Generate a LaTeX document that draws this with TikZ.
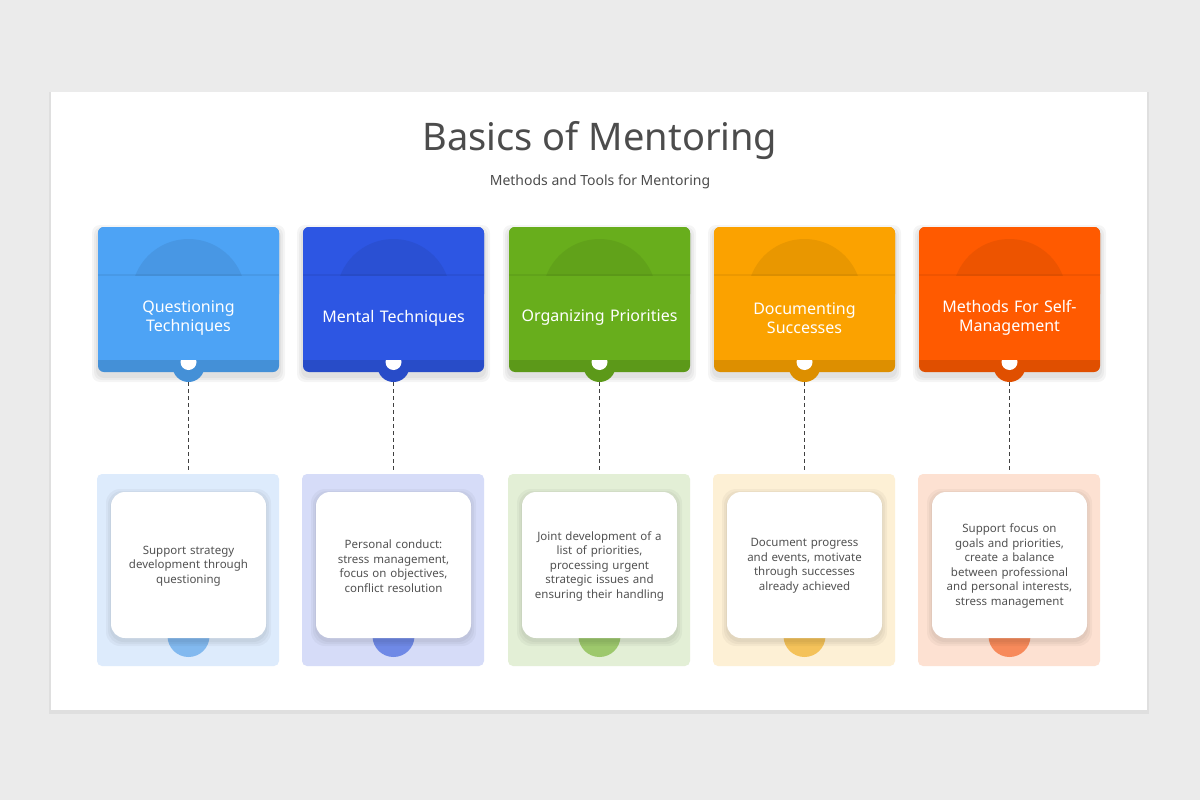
\documentclass[tikz,border=0pt]{standalone}
\usepackage{fontspec}
\setmainfont{Noto Sans}
\begin{document}
\begin{tikzpicture}[x=1pt,y=-1pt,
  ttl/.style={text=white,font=\fontsize{16}{19}\selectfont,align=center,text width=170pt},
  dsc/.style={text=black!68,font=\fontsize{11.5}{14.5}\selectfont,align=center,text width=135pt},
  conn/.style={black!75,line width=1.6pt,dash pattern=on 4pt off 3pt}]
\useasboundingbox (0,0) rectangle (1200,800);
\fill[gray!16] (0,0) rectangle (1200,800);
\fill[black,opacity=0.05] (49,92) rectangle (1149,714);
\fill[white] (51,92) rectangle (1147,710);
\node[text=black!70,font=\fontsize{38}{44}\selectfont] (title) at (600,141) {Basics of Mentoring};
\node[text=black!70,font=\fontsize{14}{17}\selectfont] (sub) at (600,182) {Methods and Tools for Mentoring};
\def\card#1#2#3#4#5#6#7{%
 \begin{scope}[xshift=#1pt]
 \definecolor{ccmain}{HTML}{#2}\definecolor{cclight}{HTML}{#3}\definecolor{ccmid}{HTML}{#4}
 \foreach \o in {2,4,6}{\fill[black,opacity=0.04,rounded corners=8] (-\o,231-\o) rectangle (181+\o,376+\o);}
 \fill[ccmain!88!black,rounded corners=6] (0,227) rectangle (181,372);
 \fill[ccmain,rounded corners=6] (0,227) rectangle (181,300);
 \begin{scope}\clip (0,227) rectangle (181,276);
  \fill[ccmain!93!black] (90.5,296) circle (57);\end{scope}
 \fill[ccmain!88!black] (90.5,366) circle (16);
 \fill[white] (90.5,362) circle (8);
 \fill[black,opacity=0.06] (0,274) rectangle (181,278);
 \fill[ccmain] (0,276) rectangle (181,360);
 \node[ttl] (t#7) at (90.5,318) {#5};
 \coordinate (a#7) at (90.5,382);
 \coordinate (b#7) at (90.5,470);
 \draw[conn] (a#7) -- (b#7);
 \fill[cclight,rounded corners=5] (-1,474) rectangle (181,666);
 \fill[ccmid] (90.5,636) circle (21);
 \foreach \o in {1,3,5}{\fill[black,opacity=0.035,rounded corners=14] (13-\o,494-\o) rectangle (168+\o,641+\o);}
 \fill[white,rounded corners=14] (13,492) rectangle (168,638);
 \node[dsc] (d#7) at (90.5,566) {#6};
 \end{scope}}
\card{98}{4DA3F5}{DDEBFC}{82B9EF}{Questioning\\Techniques}{Support strategy\\development through\\questioning}{1}
\card{303}{2D56E3}{D6DCF8}{6F89E6}{Mental Techniques}{Personal conduct:\\stress management,\\focus on objectives,\\conflict resolution}{2}
\card{509}{68AE1C}{E3EFD6}{9DC86C}{Organizing Priorities}{Joint development of a\\list of priorities,\\processing urgent\\strategic issues and\\ensuring their handling}{3}
\card{714}{FBA200}{FDF0D5}{F4C25A}{Documenting\\Successes}{Document progress\\and events, motivate\\through successes\\already achieved}{4}
\card{919}{FF5A00}{FDE1D2}{F78A5B}{Methods For Self-\\Management}{Support focus on\\goals and priorities,\\create a balance\\between professional\\and personal interests,\\stress management}{5}
\end{tikzpicture}
\end{document}
